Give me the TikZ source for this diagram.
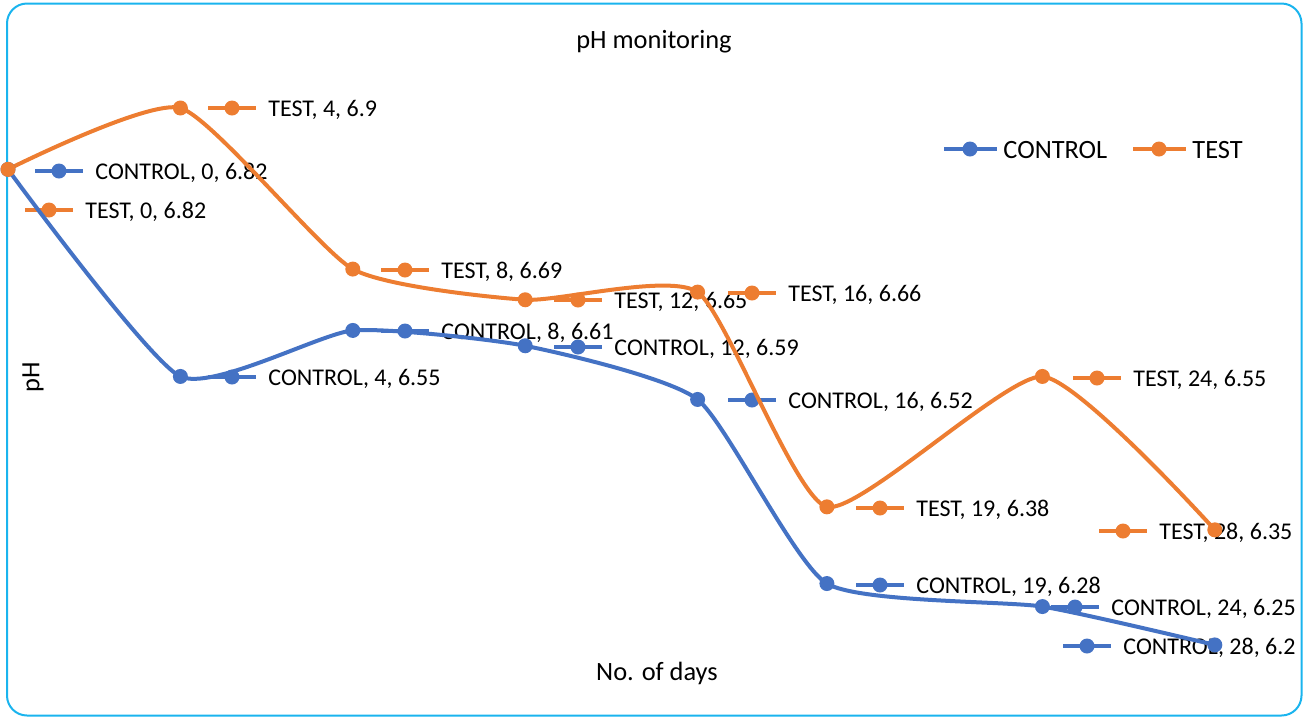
\documentclass[tikz,border=0pt]{standalone}
\usepackage{fontspec}
\setmainfont{Carlito}
\usepackage{xcolor}
\definecolor{ctrlblue}{HTML}{4472C4}
\definecolor{testorange}{HTML}{ED7D31}
\definecolor{framecyan}{HTML}{1AB4EE}

% key line + dot + text for one data label
\newcommand{\pointlabel}[5]{%
  \draw[keyline=#2] (#3-24,#4) -- (#3+24,#4);
  \node[marker=#2] at (#3,#4) {};
  \node[datalabel] (#1) at (#3+36,#4) {#5};}

\begin{document}
\begin{tikzpicture}[
  x=0.5pt, y=-0.5pt,
  series/.style={line width=2pt, line cap=round, #1},
  marker/.style={circle, fill=#1, inner sep=0pt, minimum size=7.5pt},
  keyline/.style={line width=2pt, #1},
  datalabel/.style={anchor=west, inner sep=0pt, yshift=-1pt, font=\fontsize{12}{14}\selectfont},
  axistitle/.style={inner sep=0pt, font=\fontsize{13.2}{16}\selectfont},
]
\useasboundingbox (0,0) rectangle (1305,719);

% === Frame ===
\draw[framecyan, line width=1pt, rounded corners=10pt] (7,3.5) rectangle (1301.5,715.5);

% === Titles ===
\node[axistitle] (title) at (654,42) {pH monitoring};
\node[axistitle] (xtitle) at (657,673) {No. of days};
\node[axistitle, rotate=90] (ytitle) at (33,377) {pH};

% === Legend ===
\draw[keyline=ctrlblue] (944,149) -- (997,149);
\node[marker=ctrlblue] (legc) at (970,149) {};
\node[axistitle, anchor=west, yshift=-0.5pt] (legctext) at (1003,149) {CONTROL};
\draw[keyline=testorange] (1133,149) -- (1186,149);
\node[marker=testorange] (legt) at (1159,149) {};
\node[axistitle, anchor=west, yshift=-0.5pt] (legttext) at (1192,149) {TEST};

% === Data labels ===
\pointlabel{lc0}{ctrlblue}{59}{171}{CONTROL, 0, 6.82}
\pointlabel{lt0}{testorange}{49}{210}{TEST, 0, 6.82}
\pointlabel{lt4}{testorange}{232}{108}{TEST, 4, 6.9}
\pointlabel{lc4}{ctrlblue}{232}{377}{CONTROL, 4, 6.55}
\pointlabel{lt8}{testorange}{405}{270}{TEST, 8, 6.69}
\pointlabel{lc8}{ctrlblue}{405}{331}{CONTROL, 8, 6.61}
\pointlabel{lt12}{testorange}{578}{300}{TEST, 12, 6.65}
\pointlabel{lc12}{ctrlblue}{578}{347}{CONTROL, 12, 6.59}
\pointlabel{lt16}{testorange}{752}{293}{TEST, 16, 6.66}
\pointlabel{lc16}{ctrlblue}{752}{400}{CONTROL, 16, 6.52}
\pointlabel{lt19}{testorange}{880}{508}{TEST, 19, 6.38}
\pointlabel{lc19}{ctrlblue}{880}{585}{CONTROL, 19, 6.28}
\pointlabel{lt24}{testorange}{1097}{378}{TEST, 24, 6.55}
\pointlabel{lc24}{ctrlblue}{1075}{607}{CONTROL, 24, 6.25}
\pointlabel{lt28}{testorange}{1123}{531}{TEST, 28, 6.35}
\pointlabel{lc28}{ctrlblue}{1087}{646}{CONTROL, 28, 6.2}

% === Series (day, pH) ===
\begin{scope}[shift={(8,5400.3)}, x=21.55pt, y=383.5pt]
  \coordinate (c0) at (0,6.82);  \coordinate (t0) at (0,6.82);
  \coordinate (c4) at (4,6.55);  \coordinate (t4) at (4,6.9);
  \coordinate (c8) at (8,6.61);  \coordinate (t8) at (8,6.69);
  \coordinate (c12) at (12,6.59); \coordinate (t12) at (12,6.65);
  \coordinate (c16) at (16,6.52); \coordinate (t16) at (16,6.66);
  \coordinate (c19) at (19,6.28); \coordinate (t19) at (19,6.38);
  \coordinate (c24) at (24,6.25); \coordinate (t24) at (24,6.55);
  \coordinate (c28) at (28,6.2);  \coordinate (t28) at (28,6.35);

  \draw[series=ctrlblue] plot[smooth, tension=0.33]
    coordinates {(c0) (c4) (c8) (c12) (c16) (c19) (c24) (c28)};
  \draw[series=testorange] plot[smooth, tension=0.33]
    coordinates {(t0) (t4) (t8) (t12) (t16) (t19) (t24) (t28)};

  \foreach \d in {0,4,8,12,16,19,24,28} {
    \node[marker=ctrlblue] (mc\d) at (c\d) {};
    \node[marker=testorange] (mt\d) at (t\d) {};
  }
\end{scope}
\end{tikzpicture}
\end{document}
